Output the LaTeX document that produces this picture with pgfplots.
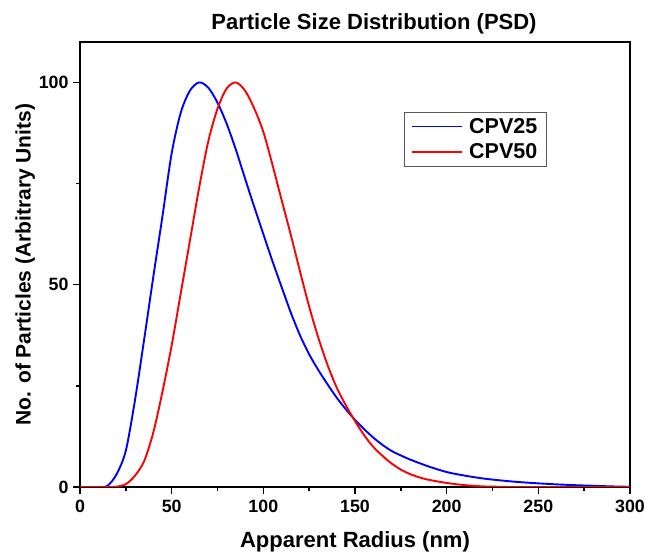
\documentclass[border=0pt]{standalone}
\usepackage{fontspec}
\setmainfont{Liberation Sans}
\usepackage{pgfplots}
\pgfplotsset{compat=1.18}
\begin{document}
\begin{tikzpicture}
\path[use as bounding box] (-80pt,-72pt) rectangle (566pt,487pt);
\begin{axis}[
  at={(0pt,0pt)}, anchor=south west,
  scale only axis, width=550pt, height=445pt,
  xmin=0, xmax=300, ymin=0, ymax=110,
  xtick={0,50,...,300}, ytick={0,50,100},
  minor x tick num=1, minor y tick num=1,
  xtick pos=bottom, ytick pos=left, tick align=outside,
  major tick length=7pt, minor tick length=4pt,
  every tick/.style={black, line width=1.5pt},
  axis line style={line width=1.5pt},
  /pgf/number format/assume math mode=true,
  tick label style={font=\fontsize{17.8}{20}\selectfont\bfseries},
  xticklabel style={yshift=-3pt},
  yticklabel style={xshift=-1pt},
  xlabel={Apparent Radius (nm)},
  ylabel={No. of Particles (Arbitrary Units)},
  xlabel style={font=\fontsize{22}{26}\selectfont\bfseries, yshift=-12pt},
  ylabel style={font=\fontsize{21}{25}\selectfont\bfseries, yshift=-3pt},
  title={Particle Size Distribution (PSD)},
  title style={font=\fontsize{22}{26}\selectfont\bfseries, xshift=19pt, yshift=-2pt},
  legend style={at={(0.589,0.843)}, anchor=north west, draw=gray!70!black, line width=0.7pt,
    font=\fontsize{21.5}{24}\selectfont\bfseries, row sep=5pt, inner xsep=7pt, inner ysep=4pt},
  legend cell align=left,
  legend image code/.code={\draw[#1] (0pt,0pt) -- (50pt,0pt); \path (54pt,0pt);},
]
\addplot[blue, line width=1.9pt, smooth] coordinates {
(0,0) (5,0) (10,0) (15,0.3) (20,3.2) (25,9) (30,21.5) (35,36.5) (40,52) (45,67) (50,82.5)
(55,92.6) (60,98) (65,100) (70,98.7) (75,95) (80,89.8) (85,83.4) (90,76.3) (95,69.3)
(100,62.5) (105,55.8) (110,49.4) (115,43.1) (120,37.5) (125,32.8) (130,28.9) (135,25.4)
(140,22.1) (145,19.2) (150,16.6) (155,14.3) (160,12.2) (165,10.4) (170,8.9) (175,7.8)
(180,6.8) (190,5.1) (200,3.7) (210,2.8) (220,2.1) (230,1.6) (240,1.2) (250,0.9)
(260,0.65) (270,0.45) (280,0.3) (290,0.15) (300,0.05)
};
\addlegendentry{CPV25}
\addplot[red, line width=1.9pt, smooth] coordinates {
(0,0) (15,0) (20,0.1) (25,0.7) (30,2.8) (35,6.4) (40,13.5) (45,23.6) (50,35) (55,48)
(60,61) (65,74) (70,85.5) (75,93.5) (80,98.5) (85,100) (90,98) (95,93.6) (100,87.8)
(105,79.6) (110,70.9) (115,62.3) (120,53.3) (125,44.6) (130,36.9) (135,30.2) (140,24.6)
(145,20.2) (150,16.3) (155,12.8) (160,9.9) (165,7.7) (170,5.8) (175,4.3) (180,3.2)
(185,2.4) (190,1.8) (200,1) (210,0.45) (220,0.15) (230,0.05) (240,0) (300,0)
};
\addlegendentry{CPV50}
\end{axis}
\end{tikzpicture}
\end{document}
